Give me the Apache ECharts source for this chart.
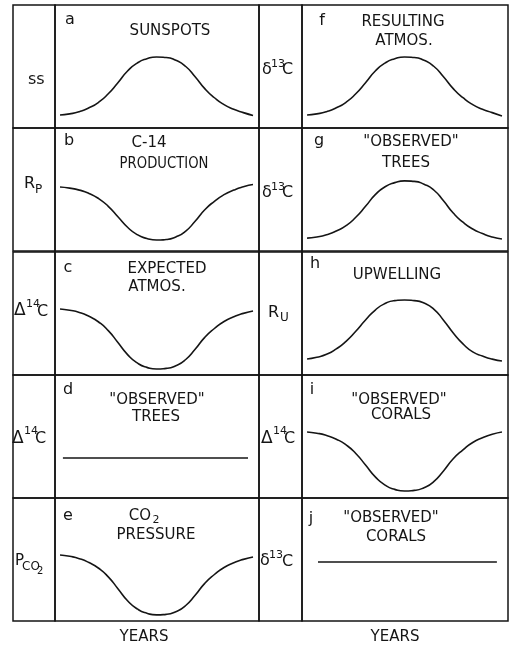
<!DOCTYPE html>
<html><head><meta charset="utf-8">
<script src="https://cdn.jsdelivr.net/npm/echarts@6/dist/echarts.min.js"></script>
<style>html,body{margin:0;padding:0;background:#fff}#c{width:511px;height:646px}</style>
</head><body><div id="c"></div>
<script>
// ---- data (in % of panel height) ----
const years = [0,5,10,15,20,25,30,35,40,45,50,55,60,65,70,75,80,85,90,95,100];
const sunspots        = [10.6,11.5,13.3,16.4,20.9,27.8,36.8,46.3,52.8,56.3,57.7,57.3,55.0,50.2,41.7,32.0,24.6,19.0,15.2,12.5,10.2];
const c14Production   = [52.0,51.1,49.5,46.8,42.6,36.3,27.8,19.3,13.3,10.2,8.9,9.3,11.4,16.0,24.2,33.5,40.4,45.8,49.5,52.2,54.0];
const expectedAtmos   = [53.7,52.7,50.9,47.7,43.1,36.1,26.4,16.6,9.8,6.2,4.9,5.4,7.6,12.4,20.9,30.6,37.8,43.5,47.3,50.1,52.0];
const flatYearsTrees  = [1.5,97.4];
const observedTrees14 = [32.5,32.5];
const co2Pressure     = [53.7,52.6,50.7,47.5,42.9,35.9,26.3,16.5,9.8,6.3,5.0,5.4,7.6,12.4,20.9,30.6,37.8,43.5,47.3,50.1,52.0];
const resultingAtmos  = [10.6,11.5,13.3,16.4,20.9,27.8,36.8,46.3,52.8,56.3,57.7,57.3,55.0,50.2,41.7,32.0,24.6,19.0,15.2,12.5,9.8];
const observedTrees13 = [10.5,11.4,13.2,16.2,20.6,27.4,36.3,45.8,52.2,55.6,57.0,56.6,54.3,49.6,40.8,30.9,23.4,17.9,14.2,11.4,9.7];
const upwelling       = [13.0,14.4,16.8,21.2,27.4,35.6,44.7,52.8,58.1,60.5,61.0,60.5,58.5,53.6,44.6,34.2,25.3,18.8,15.4,12.9,11.4];
const observedCorals14= [53.7,52.7,50.8,47.8,43.2,36.2,26.8,17.2,10.5,7.0,5.7,6.2,8.4,13.3,22.0,31.9,39.2,45.1,48.9,51.8,53.7];
const flatYearsCorals = [5.6,97.4];
const observedCorals13= [48,48];

const panelLetters = ['a','b','c','d','e','f','g','h','i','j'];
const panelTitles = [['SUNSPOTS'],['C-14','PRODUCTION'],['EXPECTED','ATMOS.'],['"OBSERVED"','TREES'],['CO','PRESSURE'],
                     ['RESULTING','ATMOS.'],['"OBSERVED"','TREES'],['UPWELLING'],['"OBSERVED"','CORALS'],['"OBSERVED"','CORALS']];
const xAxisTitle = 'YEARS';
// axis label pieces
const axisLabels = [
  ['ss'],
  ['R','P'],
  ['Δ','14','C'],
  ['Δ','14','C'],
  ['P','CO','2'],
  ['δ','13','C'],
  ['δ','13','C'],
  ['R','U'],
  ['Δ','14','C'],
  ['δ','13','C']
];

const seriesSpec = [
  [years, sunspots],[years, c14Production],[years, expectedAtmos],[flatYearsTrees, observedTrees14],[years, co2Pressure],
  [years, resultingAtmos],[years, observedTrees13],[years, upwelling],[years, observedCorals14],[flatYearsCorals, observedCorals13]
];

// ---- layout ----
const FONT = '"DejaVu Sans", sans-serif';
const INK = '#151515';
const rowTops = [5,128,252,375,498];
const rowH = 123;
const colPanel = [{left:55,width:204},{left:302,width:206}];
const colLabel = [{left:13,width:42},{left:259,width:43}];

const letterPos = [[70,20],[69,141],[68,268],[68,390],[68,516],[322,21],[319,141],[315,264],[312,390],[311,519]];
const titlePos = [
  [[170,31]],[[149,143,1],[164,164,0.88]],[[167,269],[157,287]],[[157,400],[156,417]],[[140,516],[156,535]],
  [[403,22],[404,41]],[[411,142],[406,163]],[[397,275]],[[399,400],[401,415]],[[391,518],[396,537]]
];
// per piece: [left x, center y, fontSize]
const labelPos = [
  [[28,80,16]],
  [[24,184,16],[35,190,12]],
  [[14,311,17],[26,304,11],[37,312,16]],
  [[12,439,17],[24,431,11],[35,439,16]],
  [[15,561,15],[22,567,12],[37,571,10]],
  [[262,70,16],[271,64,11],[282,70,16]],
  [[262,193,16],[271,187,11],[282,193,16]],
  [[268,313,16],[280,318,12]],
  [[261,439,17],[273,431,11],[284,439,16]],
  [[260,561,16],[269,555,11],[282,562,16]]
];

const grids = [], xAxes = [], yAxes = [], series = [], graphics = [];
for (let p = 0; p < 10; p++) {
  const col = p < 5 ? 0 : 1, row = p % 5;
  grids.push({left: colPanel[col].left, top: rowTops[row], width: colPanel[col].width, height: rowH,
    show: true, borderColor: INK, borderWidth: 1.5, backgroundColor: 'transparent'});
  xAxes.push({type:'value', gridIndex:p, min:-2.6, max:103.1, show:false});
  yAxes.push({type:'value', gridIndex:p, min:0, max:100, show:false});
  const [xs, ys] = seriesSpec[p];
  series.push({type:'line', xAxisIndex:p, yAxisIndex:p, smooth:0.6, symbol:'none', silent:true,
    lineStyle:{color:INK, width:1.6}, data: xs.map((x,i)=>[x, ys[i]])});
  graphics.push({type:'rect', shape:{x:colLabel[col].left, y:rowTops[row], width:colLabel[col].width, height:rowH},
    style:{fill:'none', stroke:INK, lineWidth:1.5}});
  graphics.push({type:'text', x:letterPos[p][0], y:letterPos[p][1],
    style:{text:panelLetters[p], font:'16px '+FONT, fill:INK, align:'center', verticalAlign:'middle'}});
  panelTitles[p].forEach((t, k) => {
    const pos = titlePos[p][k];
    graphics.push({type:'text', x:pos[0], y:pos[1], scaleX: pos[2] || 1,
      style:{text:t, font:'15px '+FONT, fill:INK, align:'center', verticalAlign:'middle'}});
  });
  axisLabels[p].forEach((piece, k) => {
    const pos = labelPos[p][k];
    graphics.push({type:'text', x:pos[0], y:pos[1],
      style:{text:piece, font:pos[2]+'px '+FONT, fill:INK, align:'left', verticalAlign:'middle'}});
  });
}
// subscript 2 of CO2 in panel e title
graphics.push({type:'text', x:156, y:520, style:{text:'2', font:'11px '+FONT, fill:INK, align:'center', verticalAlign:'middle'}});
// x axis titles
graphics.push({type:'text', x:144, y:637, style:{text:xAxisTitle, font:'15px '+FONT, fill:INK, align:'center', verticalAlign:'middle'}});
graphics.push({type:'text', x:395, y:637, style:{text:xAxisTitle, font:'15px '+FONT, fill:INK, align:'center', verticalAlign:'middle'}});

const chart = echarts.init(document.getElementById('c'), null, {renderer:'canvas'});
chart.setOption({
  animation:false,
  backgroundColor:'#fff',
  grid: grids, xAxis: xAxes, yAxis: yAxes, series: series,
  graphic: graphics
});
</script>
</body></html>
